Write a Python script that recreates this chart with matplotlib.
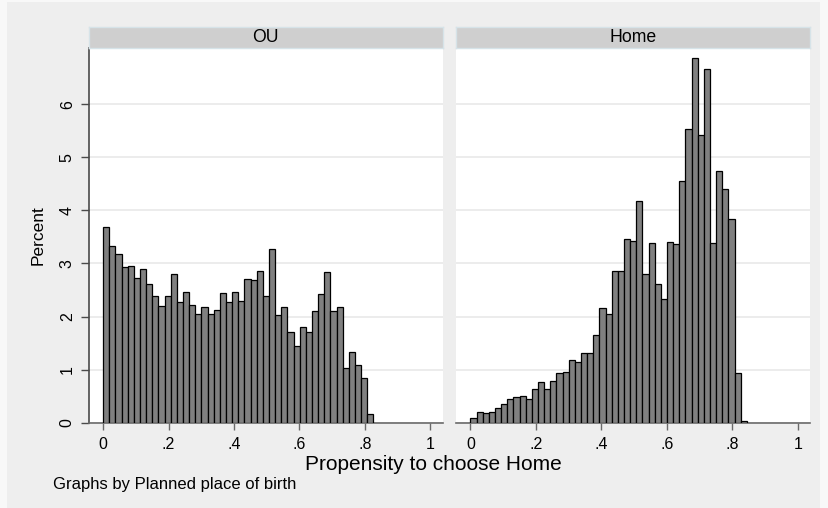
import matplotlib
matplotlib.use('Agg')
import matplotlib.pyplot as plt
from matplotlib.patches import Rectangle
import numpy as np

plt.rcParams['font.family'] = ['Liberation Sans', 'DejaVu Sans']

# Histogram of propensity scores by planned place of birth (percent per bin)
panel_titles = ['OU', 'Home']
bin_start = 0.0
bin_width = 0.01877

pct_ou = [3.69, 3.33, 3.18, 2.93, 2.95, 2.72, 2.89, 2.62, 2.39, 2.20,
          2.39, 2.81, 2.27, 2.47, 2.22, 2.05, 2.18, 2.05, 2.12, 2.44,
          2.27, 2.47, 2.29, 2.70, 2.69, 2.86, 2.39, 3.28, 2.03, 2.18,
          1.70, 1.45, 1.80, 1.70, 2.10, 2.42, 2.84, 2.10, 2.18, 1.04,
          1.34, 1.08, 0.85, 0.17]
pct_home = [0.09, 0.20, 0.18, 0.21, 0.28, 0.36, 0.44, 0.48, 0.50, 0.44,
            0.63, 0.77, 0.63, 0.79, 0.93, 0.95, 1.19, 1.15, 1.31, 1.32,
            1.65, 2.17, 2.05, 2.86, 2.86, 3.47, 3.42, 4.18, 2.81, 3.39,
            2.62, 2.33, 3.41, 3.37, 4.55, 5.53, 6.87, 5.42, 6.67, 3.38,
            4.75, 4.41, 3.84, 0.93, 0.03]

x_ticks = [0, 0.2, 0.4, 0.6, 0.8, 1.0]
x_tick_labels = ['0', '.2', '.4', '.6', '.8', '1']
y_ticks = [0, 1, 2, 3, 4, 5, 6]

W, H = 829, 508
fig = plt.figure(figsize=(W / 100, H / 100), dpi=100, facecolor='#f8f8f8')

# graph region behind both panels
fig.patches.append(Rectangle((7 / W, 0), 813 / W, 506 / H, transform=fig.transFigure,
                             facecolor='#eeeeee', edgecolor='none', zorder=-5))

def px(x0, y0, x1, y1):
    # pixel box (top-left origin) -> figure fraction rect
    return [x0 / W, 1 - y1 / H, (x1 - x0) / W, (y1 - y0) / H]

panel_x = [(88.7, 442.7), (456.0, 810.0)]
plot_top, plot_bottom = 48.0, 422.7
strip_top = 26.7

for i, (title, pct) in enumerate(zip(panel_titles, [pct_ou, pct_home])):
    x0, x1 = panel_x[i]
    ax = fig.add_axes(px(x0, plot_top, x1, plot_bottom))
    ax.set_facecolor('white')

    lefts = bin_start + bin_width * np.arange(len(pct))
    ax.bar(lefts, pct, width=bin_width, align='edge', color='#808080',
           edgecolor='black', linewidth=0.9, zorder=3)

    ax.set_xlim(-0.044, 1.0375)
    ax.set_ylim(0, 7.06)
    ax.set_yticks(y_ticks)
    ax.grid(axis='y', color='#eaeaea', linewidth=1.3, zorder=0)
    ax.set_axisbelow(True)

    for side in ['top', 'right']:
        ax.spines[side].set_visible(False)
    ax.spines['bottom'].set_color('#6a6a6a')
    ax.spines['bottom'].set_linewidth(1.2)

    ax.set_xticks(x_ticks)
    ax.set_xticklabels(x_tick_labels)
    ax.tick_params(axis='x', length=5, width=1, color='#6a6a6a',
                   labelsize=11.5, pad=5)

    if i == 0:
        ax.spines['left'].set_color('#4a4a4a')
        ax.spines['left'].set_linewidth(1.2)
        ax.set_yticklabels([str(t) for t in y_ticks], rotation=90, va='center')
        ax.tick_params(axis='y', length=6, width=1, color='#4a4a4a',
                       labelsize=11.5, pad=4)
        ax.set_ylabel('Percent', fontsize=12.5, labelpad=10)
    else:
        ax.spines['left'].set_visible(False)
        ax.tick_params(axis='y', left=False, labelleft=False)

    # panel header strip
    hs = fig.add_axes(px(x0, strip_top, x1, plot_top))
    hs.set_facecolor('#cfcfcf')
    hs.set_xticks([])
    hs.set_yticks([])
    for sp in hs.spines.values():
        sp.set_color('#d6e3e8')
        sp.set_linewidth(1)
    hs.text(0.5, 0.48, title, ha='center', va='center', fontsize=12.7,
            transform=hs.transAxes)

fig.text(433.5 / W, 1 - 464 / H, 'Propensity to choose Home', ha='center',
         va='center', fontsize=15)
fig.text(53.3 / W, 1 - 484 / H, 'Graphs by Planned place of birth', ha='left',
         va='center', fontsize=12)

fig.savefig('out.png', dpi=100, facecolor=fig.get_facecolor())
